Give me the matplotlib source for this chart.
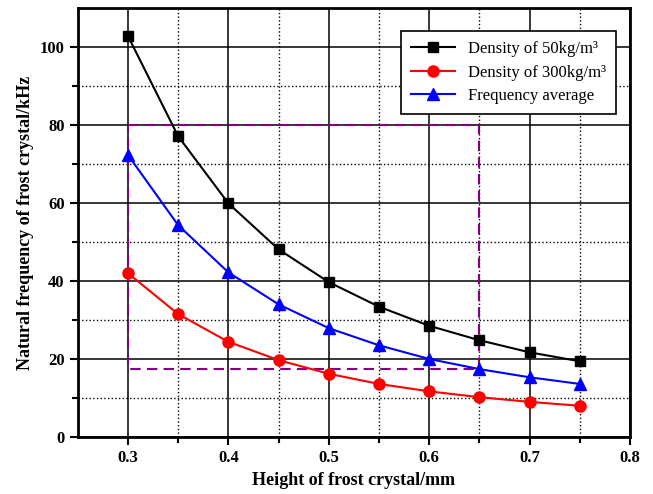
import matplotlib
matplotlib.use('Agg')
import matplotlib.pyplot as plt

plt.rcParams['font.family'] = 'Liberation Serif'

# Data
height = [0.30, 0.35, 0.40, 0.45, 0.50, 0.55, 0.60, 0.65, 0.70, 0.75]
freq_50 = [102.8, 77.1, 59.9, 48.1, 39.7, 33.4, 28.5, 24.8, 21.7, 19.4]
freq_300 = [42.0, 31.5, 24.4, 19.7, 16.2, 13.6, 11.7, 10.2, 9.0, 8.0]
freq_avg = [72.3, 54.3, 42.2, 34.0, 27.9, 23.5, 20.0, 17.4, 15.3, 13.6]

# Dashed guide box
box_x = [0.30, 0.65]
box_y = [17.4, 80.0]

fig = plt.figure(figsize=(6.53, 4.94), dpi=100)
ax = fig.add_axes([0.119, 0.1154, 0.846, 0.8686])

ax.plot(height, freq_50, color='black', marker='s', markersize=7, lw=1.5,
        label='Density of 50kg/m\u00b3', zorder=3)
ax.plot(height, freq_300, color='red', marker='o', markersize=8, lw=1.5,
        label='Density of 300kg/m\u00b3', zorder=3)
ax.plot(height, freq_avg, color='blue', marker='^', markersize=8, lw=1.5,
        label='Frequency average', zorder=3)

# Purple dashed rectangle
ax.plot([box_x[0], box_x[1], box_x[1], box_x[0], box_x[0]],
        [box_y[1], box_y[1], box_y[0], box_y[0], box_y[1]],
        color='purple', ls=(0, (5, 3)), lw=1.5, zorder=2)

ax.set_xlim(0.25, 0.8)
ax.set_ylim(0, 110)
ax.set_xticks([0.3, 0.4, 0.5, 0.6, 0.7, 0.8])
ax.set_xticks([0.35, 0.45, 0.55, 0.65, 0.75], minor=True)
ax.set_yticks([0, 20, 40, 60, 80, 100])
ax.set_yticks([10, 30, 50, 70, 90], minor=True)
ax.set_xticklabels(['0.3', '0.4', '0.5', '0.6', '0.7', '0.8'])

ax.grid(which='major', color='black', ls='-', lw=1.1)
ax.grid(which='minor', color='black', ls=':', lw=1.0)
ax.set_axisbelow(True)

ax.tick_params(which='major', direction='out', length=6, width=1.5,
               labelsize=12, top=False, right=False)
ax.tick_params(which='minor', direction='out', length=4, width=1.5,
               top=False, right=False)
for lab in ax.get_xticklabels() + ax.get_yticklabels():
    lab.set_fontweight('bold')
for s in ax.spines.values():
    s.set_linewidth(2)

ax.set_xlabel('Height of frost crystal/mm', fontsize=13, fontweight='bold')
ax.set_ylabel('Natural frequency of frost crystal/kHz', fontsize=13, fontweight='bold')

leg = ax.legend(loc='upper right', bbox_to_anchor=(0.99, 0.965), fontsize=12,
                fancybox=False, framealpha=1, edgecolor='black',
                handlelength=2.6, borderpad=0.6, labelspacing=0.45,
                handletextpad=0.8)
leg.get_frame().set_linewidth(1.2)

fig.savefig('out.png', dpi=100)
